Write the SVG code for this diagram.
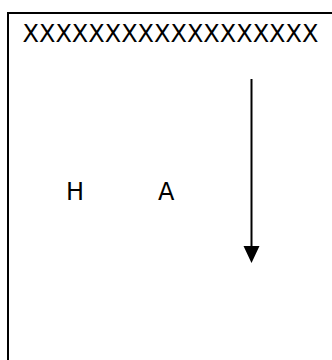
<svg xmlns="http://www.w3.org/2000/svg" width="332" height="360" viewBox="0 0 332 360">
<defs>
<style>
.t{font-family:"DejaVu Sans",sans-serif;font-size:24px;fill:#000}
.ln{stroke:#000;stroke-width:2;fill:none}
.hd{fill:#000}
</style>
</defs>
<rect width="332" height="360" fill="#fff"/>
<g id="frame">
<path class="ln" d="M8,361 V13 H333"/>
<text class="t" x="22.5" y="42">XXXXXXXXXXXXXXXXXX</text>
</g>
<g id="node-H"><text class="t" x="66" y="200">H</text></g>
<g id="node-A"><text class="t" x="158" y="200">A</text></g>
<g id="connectors">
<line class="ln" x1="251.5" y1="79" x2="251.5" y2="246"/>
<path class="hd" d="M243.5,246 L259.5,246 L251.5,263 Z"/>
</g>
</svg>
